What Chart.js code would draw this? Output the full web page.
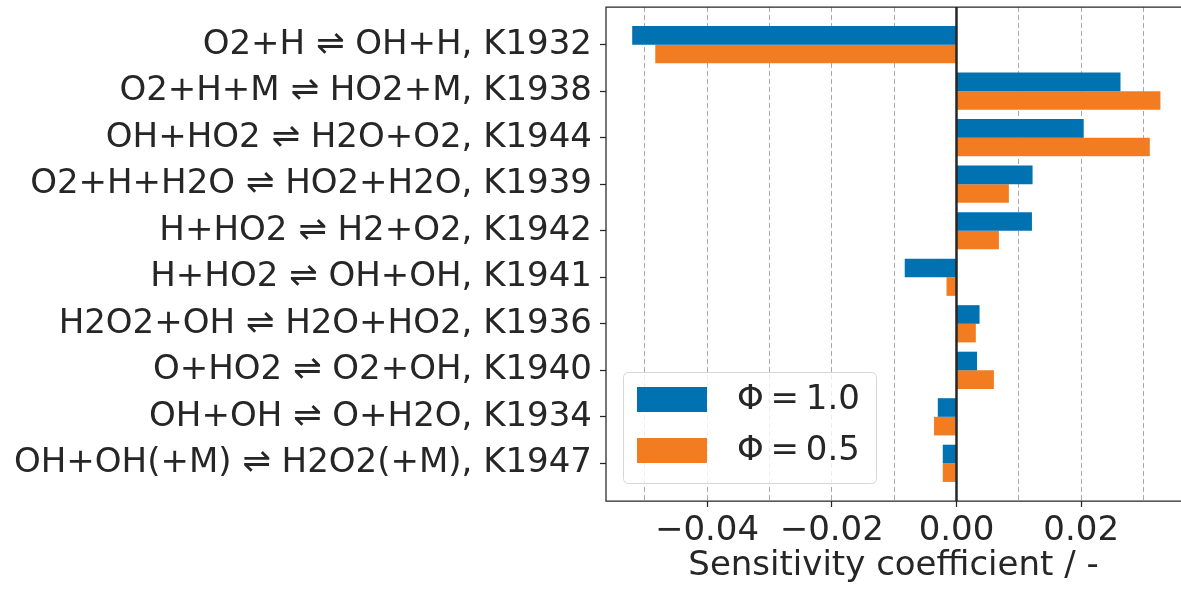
<!DOCTYPE html>
<html>
<head>
<meta charset="utf-8">
<script src="https://cdn.jsdelivr.net/npm/chart.js@4.4.1/dist/chart.umd.min.js"></script>
<style>
  body { margin: 0; background: #fff; }
  #wrap { width: 1181px; height: 590px; position: relative; }
</style>
</head>
<body>
<div id="wrap"><canvas id="sens-chart"></canvas></div>
<script>
// reactions, top to bottom
var reactions = [
	'O2+H ⇌ OH+H, K1932',
	'O2+H+M ⇌ HO2+M, K1938',
	'OH+HO2 ⇌ H2O+O2, K1944',
	'O2+H+H2O ⇌ HO2+H2O, K1939',
	'H+HO2 ⇌ H2+O2, K1942',
	'H+HO2 ⇌ OH+OH, K1941',
	'H2O2+OH ⇌ H2O+HO2, K1936',
	'O+HO2 ⇌ O2+OH, K1940',
	'OH+OH ⇌ O+H2O, K1934',
	'OH+OH(+M) ⇌ H2O2(+M), K1947'
];
var seriesLabels = ['Φ\u2009=\u20091.0', 'Φ\u2009=\u20090.5'];
var phi10 = [-0.0520, 0.0263, 0.0204, 0.0122, 0.0121, -0.0083, 0.0037, 0.0033, -0.0030, -0.0022];
var phi05 = [-0.0483, 0.0327, 0.0310, 0.0084, 0.0068, -0.0016, 0.0031, 0.0060, -0.0036, -0.0022];
var xTickValues = [-0.05, -0.04, -0.03, -0.02, -0.01, 0, 0.01, 0.02, 0.03];

var chartColours = ['#0072b2', '#f37c21'];
var ink = '#262626';
var fontFamily = '"DejaVu Sans", sans-serif';

function toPoints(values){
	return values.map(function(v, i){ return {x: v, y: i}; });
}

// zero line, axes frame and the legend box inside the plot
var framePlugin = {
	id: 'framePlugin',
	afterDraw: function(chart){
		var ctx = chart.ctx;
		var ca = chart.chartArea;
		var x0 = chart.scales.x.getPixelForValue(0);
		ctx.save();
		ctx.strokeStyle = ink;
		ctx.lineWidth = 2.5;
		ctx.beginPath();
		ctx.moveTo(x0, ca.top);
		ctx.lineTo(x0, ca.bottom);
		ctx.stroke();

		ctx.lineWidth = 1.25;
		ctx.beginPath();
		ctx.moveTo(chart.width, ca.top);
		ctx.lineTo(ca.left, ca.top);
		ctx.lineTo(ca.left, ca.bottom);
		ctx.lineTo(chart.width, ca.bottom);
		ctx.stroke();

		// legend
		var bx = ca.left + 17, bw = 253, bh = 111;
		var by = ca.bottom - 18 - bh;
		ctx.fillStyle = 'rgba(255,255,255,0.8)';
		ctx.strokeStyle = '#d6d6d6';
		ctx.lineWidth = 1;
		ctx.beginPath();
		ctx.roundRect(bx + 0.5, by + 0.5, bw, bh, 5);
		ctx.fill();
		ctx.stroke();
		ctx.font = '34px ' + fontFamily;
		ctx.textBaseline = 'middle';
		ctx.textAlign = 'left';
		chart.data.datasets.forEach(function(ds, i){
			var sy = by + 15 + i * 51;
			ctx.fillStyle = ds.backgroundColor;
			ctx.fillRect(bx + 14, sy, 70, 25);
			ctx.fillStyle = ink;
			ctx.fillText(ds.label, bx + 114, sy + 13);
		});
		ctx.restore();
	}
};

var sensChart = new Chart(document.getElementById('sens-chart'), {
	type: 'bar',
	data: {
		datasets: [
			{ label: seriesLabels[0], data: toPoints(phi10), backgroundColor: chartColours[0], borderWidth: 0 },
			{ label: seriesLabels[1], data: toPoints(phi05), backgroundColor: chartColours[1], borderWidth: 0 }
		]
	},
	options: {
		indexAxis: 'y',
		responsive: true,
		maintainAspectRatio: false,
		animation: false,
		categoryPercentage: 0.8,
		barPercentage: 1.0,
		layout: { padding: { top: 7, right: 0, left: 0, bottom: 0 } },
		scales: {
			y: {
				type: 'linear',
				reverse: true,
				offset: false,
				min: -0.81,
				max: 9.81,
				afterBuildTicks: function(scale){
					scale.ticks = reactions.map(function(r, i){ return {value: i}; });
				},
				afterFit: function(scale){
					scale.width = 606;
					scale.paddingTop = 0;
					scale.paddingBottom = 0;
				},
				ticks: {
					callback: function(v){ return reactions[v]; },
					font: { family: fontFamily, size: 34 },
					color: ink,
					padding: 8,
					autoSkip: false
				},
				grid: {
					offset: false,
					drawOnChartArea: false,
					drawTicks: true,
					tickLength: 6,
					tickColor: ink,
					tickWidth: 1.25
				},
				border: { display: false }
			},
			x: {
				type: 'linear',
				min: -0.0562,
				max: 0.036,
				z: 1,
				afterBuildTicks: function(scale){
					scale.ticks = xTickValues.map(function(v){ return {value: v}; });
				},
				afterFit: function(scale){
					scale.height = 89;
					scale.paddingLeft = 0;
					scale.paddingRight = 0;
				},
				ticks: {
					autoSkip: false,
					maxRotation: 0,
					font: { family: fontFamily, size: 34 },
					color: ink,
					padding: 4,
					callback: function(v){
						if (Math.round(v * 100) % 2 !== 0) return '';
						var s = Math.abs(v).toFixed(2);
						return v < -1e-9 ? '\u2212' + s : s;
					}
				},
				grid: {
					color: function(c){
						return Math.abs(c.tick.value) < 1e-9 ? 'rgba(0,0,0,0)' : 'rgba(140,140,140,0.75)';
					},
					lineWidth: 1,
					tickLength: 6,
					tickWidth: 1.25,
					tickColor: function(c){
						return Math.round(c.tick.value * 100) % 2 === 0 ? ink : 'rgba(0,0,0,0)';
					}
				},
				border: { display: false, dash: [5, 3] },
				title: {
					display: true,
					text: 'Sensitivity coefficient / -',
					font: { family: fontFamily, size: 34 },
					color: ink,
					padding: { top: 0, bottom: 3 }
				}
			}
		},
		plugins: {
			legend: { display: false },
			tooltip: { enabled: false }
		}
	},
	plugins: [framePlugin]
});
</script>
</body>
</html>
